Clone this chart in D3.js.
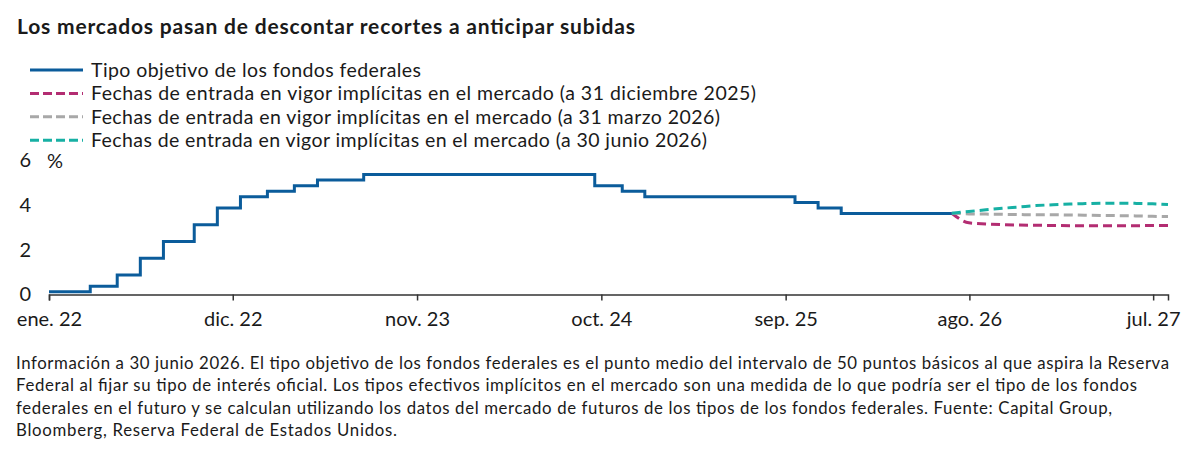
<!DOCTYPE html>
<html>
<head>
<meta charset="utf-8">
<script src="https://cdn.jsdelivr.net/npm/d3@7"></script>
<style>
  body { margin: 0; background: #fff; }
  svg text { font-family: Lato, "Noto Sans", sans-serif; fill: #1a1a1a; }
  .title { font-weight: bold; font-size: 21px; }
  .legend text { font-size: 19.5px; }
  .note { font-size: 16.8px; }
</style>
</head>
<body>
<div id="chart"></div>
<script>
const parse = d3.timeParse('%Y-%m-%d');

// federal funds target (midpoint), step changes
const fedDates = ['2022-01-01', '2022-03-17', '2022-05-05', '2022-06-16', '2022-07-28', '2022-09-22',
  '2022-11-03', '2022-12-15', '2023-02-02', '2023-03-23', '2023-05-04', '2023-07-27', '2024-09-19',
  '2024-11-08', '2024-12-19', '2025-09-18', '2025-10-30', '2025-12-11', '2026-06-30'];
const fedValues = [0.125, 0.375, 0.875, 1.625, 2.375, 3.125, 3.875, 4.375, 4.625, 4.875, 5.125,
  5.375, 4.875, 4.625, 4.375, 4.125, 3.875, 3.625, 3.625];

// market implied path, month ends
const impliedDates = ['2026-06-30', '2026-07-31', '2026-08-31', '2026-09-30', '2026-10-31', '2026-11-30',
  '2026-12-31', '2027-01-31', '2027-02-28', '2027-03-31', '2027-04-30', '2027-05-31', '2027-06-30', '2027-07-28'];
const impliedDec25 = [3.64, 3.21, 3.16, 3.13, 3.11, 3.10, 3.09, 3.08, 3.08, 3.08, 3.08, 3.08, 3.09, 3.09];
const impliedMar26 = [3.64, 3.61, 3.60, 3.59, 3.58, 3.57, 3.57, 3.56, 3.55, 3.54, 3.53, 3.52, 3.50, 3.49];
const impliedJun26 = [3.64, 3.72, 3.79, 3.86, 3.92, 3.98, 4.02, 4.05, 4.07, 4.09, 4.09, 4.08, 4.06, 4.03];

const tickDates = ['2022-01-01', '2022-12-01', '2023-11-01', '2024-10-01', '2025-09-01', '2026-08-01', '2027-07-01'];
const tickLabels = ['ene. 22', 'dic. 22', 'nov. 23', 'oct. 24', 'sep. 25', 'ago. 26', 'jul. 27'];
const yTicks = [0, 2, 4, 6];

const seriesNames = [
  'Tipo objetivo de los fondos federales',
  'Fechas de entrada en vigor implícitas en el mercado (a 31 diciembre 2025)',
  'Fechas de entrada en vigor implícitas en el mercado (a 31 marzo 2026)',
  'Fechas de entrada en vigor implícitas en el mercado (a 30 junio 2026)'
];
const colors = ['#0b5c9b', '#b32d72', '#a8a8a8', '#17b0a4'];

const title = 'Los mercados pasan de descontar recortes a anticipar subidas';
const noteLines = [
  'Información a 30 junio 2026. El tipo objetivo de los fondos federales es el punto medio del intervalo de 50 puntos básicos al que aspira la Reserva',
  'Federal al fijar su tipo de interés oficial. Los tipos efectivos implícitos en el mercado son una medida de lo que podría ser el tipo de los fondos',
  'federales en el futuro y se calculan utilizando los datos del mercado de futuros de los tipos de los fondos federales. Fuente: Capital Group,',
  'Bloomberg, Reserva Federal de Estados Unidos.'
];

const width = 1200, height = 455;
const margin = { left: 49, right: 32, top: 160, bottom: 161 };

// stretch a text to the width it has in the original layout
function fitTo(sel, w) {
  sel.attr('textLength', w).attr('lengthAdjust', 'spacing');
}

const svg = d3.select('#chart').append('svg')
  .attr('width', width)
  .attr('height', height);

const x = d3.scaleTime()
  .domain([parse('2022-01-01'), parse('2027-07-28')])
  .range([margin.left, width - margin.right]);
const y = d3.scaleLinear()
  .domain([0, 6])
  .range([height - margin.bottom + 0.5, margin.top + 0.5]);

svg.append('text').attr('class', 'title')
  .attr('x', 17).attr('y', 34)
  .text(title)
  .call(fitTo, 618);

// legend
const legendEnds = [421, 756, 720, 707];
const legend = svg.append('g').attr('class', 'legend');
seriesNames.forEach((name, i) => {
  const ly = 70 + i * 23.4;
  legend.append('line')
    .attr('x1', 30).attr('x2', 83)
    .attr('y1', ly).attr('y2', ly)
    .attr('stroke', colors[i])
    .attr('stroke-width', 3)
    .attr('stroke-dasharray', i === 0 ? null : '9,4');
  legend.append('text')
    .attr('x', 91).attr('y', ly)
    .attr('dy', '0.35em')
    .text(name)
    .call(fitTo, legendEnds[i] - 91);
});

// x axis
const xAxis = d3.axisBottom(x)
  .tickValues(tickDates.map(parse))
  .tickFormat((d, i) => tickLabels[i])
  .tickSizeOuter(0)
  .tickSize(6)
  .tickPadding(11);
const gx = svg.append('g').attr('class', 'axis')
  .attr('transform', `translate(0,${y(0)})`)
  .call(xAxis);
gx.selectAll('path, line').attr('stroke', '#333').attr('stroke-width', 1.5);
gx.selectAll('text').attr('fill', '#1a1a1a').style('font-size', '20px');

// y axis labels only
const yAxis = d3.axisLeft(y)
  .tickValues(yTicks)
  .tickFormat(d3.format('d'))
  .tickSize(0)
  .tickPadding(0);
const gy = svg.append('g').attr('class', 'axis')
  .attr('transform', 'translate(31,0)')
  .call(yAxis);
gy.select('.domain').remove();
gy.selectAll('text').attr('fill', '#1a1a1a').style('font-size', '20px');
svg.append('text')
  .attr('x', 47).attr('y', y(6)).attr('dy', '0.35em')
  .style('font-size', '20px')
  .text('%');

// lines
const fedData = fedDates.map((d, i) => ({ date: parse(d), value: fedValues[i] }));
const stepLine = d3.line()
  .x(d => x(d.date))
  .y(d => y(d.value))
  .curve(d3.curveStepAfter);

const implied = [impliedDec25, impliedMar26, impliedJun26];
const smoothLine = d3.line()
  .x(d => x(d.date))
  .y(d => y(d.value))
  .curve(d3.curveMonotoneX);

implied.forEach((vals, i) => {
  const data = impliedDates.map((d, j) => ({ date: parse(d), value: vals[j] }));
  svg.append('path')
    .datum(data)
    .attr('fill', 'none')
    .attr('stroke', colors[i + 1])
    .attr('stroke-width', 3)
    .attr('stroke-dasharray', '9,5')
    .attr('d', smoothLine);
});

svg.append('path')
  .datum(fedData)
  .attr('fill', 'none')
  .attr('stroke', colors[0])
  .attr('stroke-width', 3)
  .attr('d', stepLine);

// footnote
const noteEnds = [1169, 1137, 1112, 397];
const note = svg.append('text').attr('class', 'note');
noteLines.forEach((line, i) => {
  note.append('tspan')
    .attr('x', 16)
    .attr('y', 363 + i * 22.5)
    .attr('dy', '0.35em')
    .text(line)
    .call(fitTo, noteEnds[i] - 16);
});
</script>
</body>
</html>
